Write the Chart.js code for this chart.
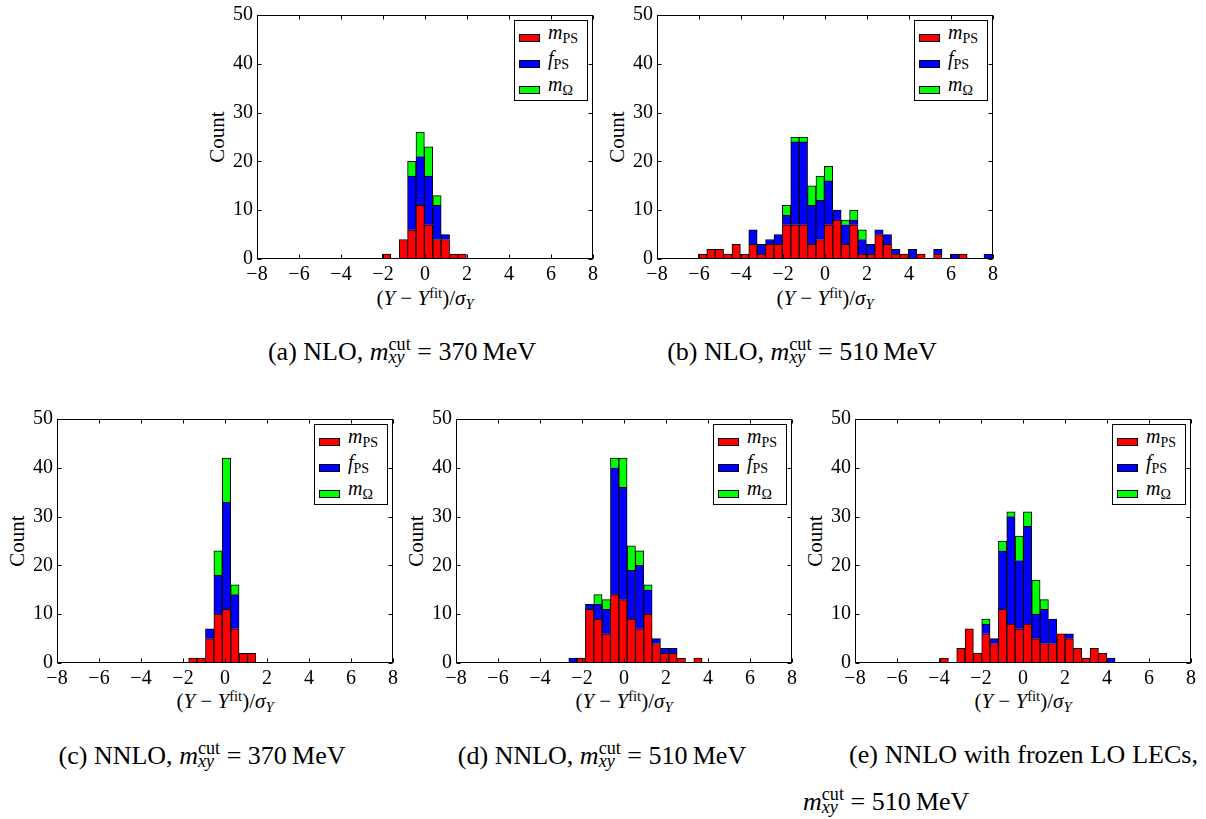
<!DOCTYPE html>
<html>
<head>
<meta charset="utf-8">
<script src="https://cdn.jsdelivr.net/npm/chart.js@4.4.0/dist/chart.umd.min.js"></script>
<style>
html,body{margin:0;padding:0;background:#fff;}
body{position:relative;width:1206px;height:819px;overflow:hidden;font-family:"Liberation Serif",serif;color:#000;}
canvas{position:absolute;}
.t{position:absolute;white-space:nowrap;line-height:1;}
.c{transform:translateX(-50%);}
.cap{font-size:26px;}
.xl{font-size:21px;transform:translate(-50%,-50%);}
.yl{font-size:21px;transform:translate(-50%,-50%) rotate(-90deg);}
.sp{font-size:0.7em;position:relative;top:-0.5em;}
.sb{font-size:0.7em;position:relative;top:0.3em;}
.ss{font-size:0.7em;position:relative;}
.ss .up{position:relative;top:-0.57em;}
.ss .dn{position:absolute;left:0;top:0.23em;line-height:1;}
.lg{position:absolute;border:1px solid #000;background:#fff;box-sizing:border-box;width:74px;height:81px;}
.lg .pt{position:absolute;left:4px;width:21px;height:8px;border:1px solid #000;box-sizing:border-box;}
.lg .tx{position:absolute;left:33px;font-size:20px;line-height:1;white-space:nowrap;}
.lsub{font-size:0.7em;position:relative;top:0.25em;}
</style>
</head>
<body>

<div class="t yl" style="left:217px;top:137px;">Count</div>
<div class="t yl" style="left:617px;top:137px;">Count</div>
<div class="t yl" style="left:17px;top:541px;">Count</div>
<div class="t yl" style="left:416px;top:541px;">Count</div>
<div class="t yl" style="left:815px;top:541px;">Count</div>

<div class="t xl" style="left:425px;top:298px;">(<i>Y</i> − <i>Y</i><span class="sp">fit</span>)/<i>σ</i><span class="sb"><i>Y</i></span></div>
<div class="t xl" style="left:825px;top:298px;">(<i>Y</i> − <i>Y</i><span class="sp">fit</span>)/<i>σ</i><span class="sb"><i>Y</i></span></div>
<div class="t xl" style="left:225px;top:701px;">(<i>Y</i> − <i>Y</i><span class="sp">fit</span>)/<i>σ</i><span class="sb"><i>Y</i></span></div>
<div class="t xl" style="left:624px;top:701px;">(<i>Y</i> − <i>Y</i><span class="sp">fit</span>)/<i>σ</i><span class="sb"><i>Y</i></span></div>
<div class="t xl" style="left:1023px;top:701px;">(<i>Y</i> − <i>Y</i><span class="sp">fit</span>)/<i>σ</i><span class="sb"><i>Y</i></span></div>

<div class="t cap c" style="left:402px;top:339px;">(a) NLO, <i>m</i><span class="ss"><span class="up">cut</span><span class="dn"><i>xy</i></span></span> = 370&#8201;MeV</div>
<div class="t cap c" style="left:802px;top:339px;">(b) NLO, <i>m</i><span class="ss"><span class="up">cut</span><span class="dn"><i>xy</i></span></span> = 510&#8201;MeV</div>
<div class="t cap c" style="left:202px;top:743px;">(c) NNLO, <i>m</i><span class="ss"><span class="up">cut</span><span class="dn"><i>xy</i></span></span> = 370&#8201;MeV</div>
<div class="t cap c" style="left:602px;top:743px;">(d) NNLO, <i>m</i><span class="ss"><span class="up">cut</span><span class="dn"><i>xy</i></span></span> = 510&#8201;MeV</div>
<div class="t cap" style="left:849px;top:742px;width:349px;display:flex;justify-content:space-between;"><span>(e)</span><span>NNLO</span><span>with</span><span>frozen</span><span>LO</span><span>LECs,</span></div>
<div class="t cap" style="left:803px;top:789px;"><i>m</i><span class="ss"><span class="up">cut</span><span class="dn"><i>xy</i></span></span> = 510&#8201;MeV</div>

<script>
// axis ticks
var xTicks = [-8, -6, -4, -2, 0, 2, 4, 6, 8];
var yTicks = [0, 10, 20, 30, 40, 50];

// series (stacked: red at the bottom, then blue, then green)
var seriesNames = ["m_PS", "f_PS", "m_Ω"];
var seriesHtml = ['<i>m</i><span class="lsub">PS</span>', '<i>f</i><span class="lsub">PS</span>', '<i>m</i><span class="lsub">Ω</span>'];
var seriesColors = ["#ff0000", "#0000ff", "#00ff00"];

// (a) NLO, 370 MeV : first bin edge and bin width, counts per bin
var aLo = -2.03, aW = 0.4;
var aRed   = [1, 0, 4, 6, 11, 7, 4, 4, 1, 1];
var aBlue  = [0, 0, 0, 11, 10, 10, 7, 1, 0, 0];
var aGreen = [0, 0, 0, 3, 5, 6, 2, 0, 0, 0];

// (b) NLO, 510 MeV
var bLo = -6.03, bW = 0.4;
var bRed   = [1, 2, 2, 1, 3, 1, 3, 1, 3, 3, 7, 7, 7, 3, 4, 7, 8, 3, 7, 1, 1, 5, 3, 1, 1, 0, 1, 0, 1, 0, 0, 1, 0, 0, 0];
var bBlue  = [0, 0, 0, 0, 0, 0, 3, 2, 1, 2, 2, 17, 17, 8, 8, 9, 2, 4, 1, 3, 2, 1, 2, 1, 0, 2, 0, 0, 1, 0, 1, 0, 0, 0, 1];
var bGreen = [0, 0, 0, 0, 0, 0, 0, 0, 0, 0, 2, 1, 1, 4, 5, 3, 0, 1, 2, 2, 0, 0, 0, 0, 0, 0, 0, 0, 0, 0, 0, 0, 0, 0, 0];

// (c) NNLO, 370 MeV
var cLo = -1.73, cW = 0.4;
var cRed   = [1, 1, 5, 10, 11, 7, 2, 2];
var cBlue  = [0, 0, 2, 8, 22, 7, 0, 0];
var cGreen = [0, 0, 0, 5, 9, 2, 0, 0];

// (d) NNLO, 510 MeV
var dLo = -2.63, dW = 0.397;
var dRed   = [0, 1, 11, 9, 6, 14, 13, 9, 7, 10, 4, 2, 2, 1, 0, 1, 0];
var dBlue  = [1, 0, 1, 3, 5, 26, 23, 10, 13, 5, 1, 1, 1, 0, 0, 0, 0];
var dGreen = [0, 0, 0, 2, 2, 2, 6, 5, 3, 1, 0, 0, 0, 0, 0, 0, 0];

// (e) NNLO with frozen LO LECs, 510 MeV
var eLo = -3.95, eW = 0.397;
var eRed   = [1, 0, 3, 7, 2, 6, 4, 11, 8, 7, 8, 5, 4, 4, 6, 5, 3, 1, 3, 2, 0];
var eBlue  = [0, 0, 0, 0, 0, 2, 1, 12, 22, 14, 20, 5, 7, 5, 0, 1, 0, 0, 0, 0, 1];
var eGreen = [0, 0, 0, 0, 0, 1, 0, 2, 1, 5, 3, 7, 2, 0, 0, 0, 0, 0, 0, 0, 0];

var panels = [
  {lo: aLo, w: aW, sets: [aRed, aBlue, aGreen], left: 257, top: 15},
  {lo: bLo, w: bW, sets: [bRed, bBlue, bGreen], left: 657, top: 15},
  {lo: cLo, w: cW, sets: [cRed, cBlue, cGreen], left: 57, top: 419},
  {lo: dLo, w: dW, sets: [dRed, dBlue, dGreen], left: 456, top: 419},
  {lo: eLo, w: eW, sets: [eRed, eBlue, eGreen], left: 855, top: 419}
];
var plotW = 336, plotH = 244;

function minus(v) { return v < 0 ? "\u2212" + (-v) : "" + v; }

// box round the plot and inward ticks on all four sides
var frame = {
  id: "frame",
  afterDatasetsDraw: function(chart) {
    var c = chart.ctx, a = chart.chartArea, sx = chart.scales.x, sy = chart.scales.y;
    var l = Math.round(a.left) + 0.5, r = Math.round(a.right) - 0.5;
    var t = Math.round(a.top) + 0.5, b = Math.round(a.bottom) - 0.5;
    c.save();
    c.strokeStyle = "#000";
    c.lineWidth = 1;
    c.beginPath();
    sx.ticks.forEach(function(k) {
      var px = Math.round(sx.getPixelForValue(k.value)) + 0.5;
      c.moveTo(px, b); c.lineTo(px, b - 4);
      c.moveTo(px, t); c.lineTo(px, t + 4);
    });
    sy.ticks.forEach(function(k) {
      var py = Math.round(sy.getPixelForValue(k.value)) + 0.5;
      c.moveTo(l, py); c.lineTo(l + 4, py);
      c.moveTo(r, py); c.lineTo(r - 4, py);
    });
    c.stroke();
    c.strokeRect(l, t, r - l, b - t);
    c.restore();
  }
};

var tickFont = {family: "'Liberation Serif', serif", size: 20};

panels.forEach(function(p) {
  var centers = p.sets[0].map(function(v, i) { return p.lo + p.w * (i + 0.5); });
  var cv = document.createElement("canvas");
  cv.width = 420; cv.height = 300;
  document.body.appendChild(cv);
  var chart = new Chart(cv, {
    type: "bar",
    data: {
      labels: centers,
      datasets: p.sets.map(function(d, j) {
        return {label: seriesNames[j], data: d, backgroundColor: seriesColors[j],
          borderColor: "#000", borderWidth: 1, categoryPercentage: 1, barPercentage: 1};
      })
    },
    options: {
      responsive: false, maintainAspectRatio: false, animation: false,
      layout: {padding: {top: 12, right: 14}},
      plugins: {legend: {display: false}, tooltip: {enabled: false}},
      scales: {
        x: {type: "linear", stacked: true, min: -8, max: 8, offset: false,
          grid: {display: false, drawTicks: false}, border: {display: false},
          afterBuildTicks: function(s) { s.ticks = xTicks.map(function(v) { return {value: v}; }); },
          ticks: {padding: 4, color: "#000", font: tickFont, maxRotation: 0, autoSkip: false, callback: minus}},
        y: {stacked: true, min: 0, max: 50,
          grid: {display: false, drawTicks: false}, border: {display: false},
          afterBuildTicks: function(s) { s.ticks = yTicks.map(function(v) { return {value: v}; }); },
          ticks: {padding: 4, color: "#000", font: tickFont, callback: minus}}
      }
    },
    plugins: [frame]
  });
  var a = chart.chartArea;
  chart.resize(420 + plotW - (a.right - a.left), 300 + plotH - (a.bottom - a.top));
  a = chart.chartArea;
  cv.style.left = (p.left - a.left) + "px";
  cv.style.top = (p.top - a.top) + "px";

  // legend box in the upper right corner
  var lg = document.createElement("div");
  lg.className = "lg";
  lg.style.left = (p.left + plotW - 5 - 74) + "px";
  lg.style.top = (p.top + 5) + "px";
  var html = "";
  seriesHtml.forEach(function(h, j) {
    var cy = 16.7 + 26 * j;
    html += '<div class="pt" style="top:' + (cy - 4) + 'px;background:' + seriesColors[j] + ';"></div>';
    html += '<div class="tx" style="top:' + (cy - 15.7) + 'px;">' + h + '</div>';
  });
  lg.innerHTML = html;
  document.body.appendChild(lg);
});
</script>
</body>
</html>
